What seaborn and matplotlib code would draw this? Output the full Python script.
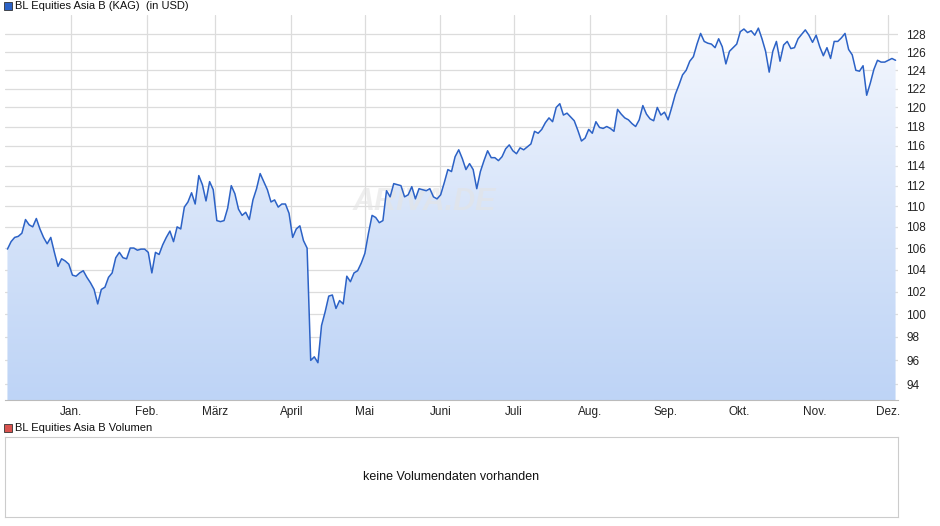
import numpy as np
import pandas as pd
import matplotlib
matplotlib.use("agg")
import matplotlib.pyplot as plt
import matplotlib.dates as mdates
from matplotlib.ticker import FixedLocator, NullLocator
import seaborn as sns

sns.set_style("white")
plt.rcParams["font.family"] = ["Liberation Sans", "DejaVu Sans"]

## Data
START_DATE = "2024-12-06"
END_DATE = "2025-12-04"
PRICES = [
    105.9, 106.6, 107.0, 107.1, 107.4, 108.7, 108.2, 108.0, 108.8, 107.8,
    107.0, 106.4, 107.0, 105.6, 104.3, 105.0, 104.8, 104.5, 103.5, 103.4,
    103.7, 103.9, 103.3, 102.8, 102.2, 100.9, 102.2, 102.4, 103.3, 103.7,
    105.1, 105.6, 105.1, 105.0, 106.0, 106.0, 105.8, 105.9, 105.9, 105.6,
    103.7, 105.6, 105.4, 106.3, 107.0, 107.6, 106.6, 108.0, 107.8, 109.9,
    110.4, 111.3, 110.2, 113.0, 112.1, 110.5, 112.4, 111.6, 108.6, 108.5,
    108.6, 109.8, 112.0, 111.2, 109.7, 109.1, 109.4, 108.7, 110.6, 111.7,
    113.2, 112.4, 111.6, 110.4, 110.6, 109.9, 110.2, 110.2, 109.3, 107.0,
    107.8, 108.1, 106.7, 106.0, 96.0, 96.3, 95.8,
    99.0, 100.2, 101.6, 101.7, 100.5, 101.2, 100.9, 103.4, 102.9, 103.7,
    103.9, 104.6, 105.5, 107.4, 109.1, 108.9, 108.4, 108.6, 111.5, 110.9,
    112.2, 112.1, 112.0, 110.9, 111.1, 111.9, 110.7, 111.7, 111.6, 111.5,
    111.7, 110.9, 110.7, 111.1, 112.3, 113.6, 113.4, 114.9, 115.6, 114.7,
    113.6, 114.2, 113.6, 111.7, 113.4, 114.5, 115.5, 114.8, 114.8, 114.5,
    114.9, 115.7, 116.1, 115.5, 115.2, 115.8, 115.6, 115.9, 116.2, 117.5,
    117.3, 117.7, 118.4, 118.9, 118.5, 120.0, 120.4, 119.2, 119.4, 119.0,
    118.6, 117.6, 116.5, 116.8, 117.7, 117.3, 118.5, 117.9, 117.8,
    118.0, 117.8, 117.5, 119.8, 119.3, 118.9, 118.7, 118.3, 118.0, 118.7,
    120.2, 119.3, 118.8, 118.6, 120.0, 119.2, 119.5, 118.7, 120.0, 121.4,
    122.4, 123.5, 124.0, 125.0, 125.5, 126.9, 128.1, 127.2, 127.0, 126.9,
    126.5, 127.5, 126.6, 124.7, 126.1, 126.5, 126.9, 128.3, 128.6, 128.2,
    128.4, 127.9, 128.7, 127.5, 126.1, 123.8, 126.1, 127.2, 125.0, 126.8,
    127.2, 126.4, 126.5, 127.5, 128.0, 128.5, 127.9, 127.1, 127.9, 126.6,
    125.6, 126.5, 125.3, 127.2, 127.2, 127.6, 128.1, 126.3, 125.7, 124.0,
    123.9, 124.5, 121.3, 122.6, 124.1, 125.1, 124.9, 124.9, 125.1, 125.3,
    125.1,
]
Y_TICKS = [94, 96, 98, 100, 102, 104, 106, 108, 110, 112, 114, 116, 118,
           120, 122, 124, 126, 128]
MONTH_STARTS = ["2025-01-01", "2025-02-01", "2025-03-01", "2025-04-01",
                "2025-05-01", "2025-06-01", "2025-07-01", "2025-08-01",
                "2025-09-01", "2025-10-01", "2025-11-01", "2025-12-01"]
MONTH_LABELS = ["Jan.", "Feb.", "März", "April", "Mai", "Juni", "Juli",
                "Aug.", "Sep.", "Okt.", "Nov.", "Dez."]

df = pd.DataFrame({
    "date": pd.date_range(START_DATE, END_DATE, periods=len(PRICES)),
    "price": PRICES,
})

W, H = 940, 526
fig = plt.figure(figsize=(W / 100, H / 100), dpi=100)
ax = fig.add_axes([5 / W, (H - 400) / H, 893 / W, 385 / H])
ax.set_yscale("log")
ymin, ymax = 92.7, 130.2
ax.set_ylim(ymin, ymax)
x0 = mdates.date2num(pd.Timestamp("2024-12-05"))
x1 = mdates.date2num(pd.Timestamp("2025-12-05"))
ax.set_xlim(x0, x1)

# gradient fill below the line
grad = np.linspace(0, 1, 256).reshape(-1, 1)
cmap = matplotlib.colors.LinearSegmentedColormap.from_list("g", ["#f7f9fe", "#bed4f6"])
im = ax.imshow(grad, aspect="auto", cmap=cmap, extent=[x0, x1, ymin, ymax],
               origin="upper", zorder=1)
poly = ax.fill_between(df["date"], df["price"], ymin, color="none")
im.set_clip_path(poly.get_paths()[0], transform=ax.transData)
ax.set_ylim(ymin, ymax)
ax.set_xlim(x0, x1)

sns.lineplot(data=df, x="date", y="price", ax=ax, color="#2c62c6", lw=1.1, zorder=3)

ax.yaxis.set_major_locator(FixedLocator(Y_TICKS))
ax.yaxis.set_minor_locator(NullLocator())
ax.set_yticklabels([str(t) for t in Y_TICKS])
ax.yaxis.tick_right()
ax.set_xticks(mdates.date2num(pd.to_datetime(MONTH_STARTS)))
ax.set_xticklabels(MONTH_LABELS)
ax.tick_params(axis="both", length=0, labelsize=8.5, colors="#222222", pad=4)
ax.tick_params(axis="y", pad=6)
ax.grid(True, color="#dcdcdc", lw=0.9, zorder=0)
ax.set_axisbelow(True)
ax.set_xlabel("")
ax.set_ylabel("")
for s in ax.spines.values():
    s.set_visible(False)
ax.spines["bottom"].set_visible(True)
ax.spines["bottom"].set_color("#bbbbbb")

ax.text(0.47, 0.515, "ARIVA.DE", transform=ax.transAxes, fontsize=22,
        fontweight="bold", fontstyle="italic", color="#e4e4e4", alpha=0.6,
        ha="center", va="center", zorder=2)

# legends
def legend_box(xp, yp, color):
    fig.patches.append(matplotlib.patches.Rectangle(
        (xp / W, (H - yp - 4) / H), 8 / W, 8 / H, transform=fig.transFigure,
        facecolor=color, edgecolor="#333333", lw=0.6))

legend_box(4, 6, "#2c62c6")
fig.text(15 / W, (H - 6) / H, "BL Equities Asia B (KAG)  (in USD)", fontsize=8,
         va="center", color="#111111")
legend_box(4, 428, "#d9534f")
fig.text(15 / W, (H - 428) / H, "BL Equities Asia B Volumen", fontsize=8,
         va="center", color="#111111")

vax = fig.add_axes([5 / W, (H - 517) / H, 893 / W, 80 / H])
vax.set_xticks([])
vax.set_yticks([])
for s in vax.spines.values():
    s.set_color("#cccccc")
vax.text(0.5, 0.5, "keine Volumendaten vorhanden", transform=vax.transAxes,
         ha="center", va="center", fontsize=9, color="#111111")

fig.savefig("out.png", dpi=100)
